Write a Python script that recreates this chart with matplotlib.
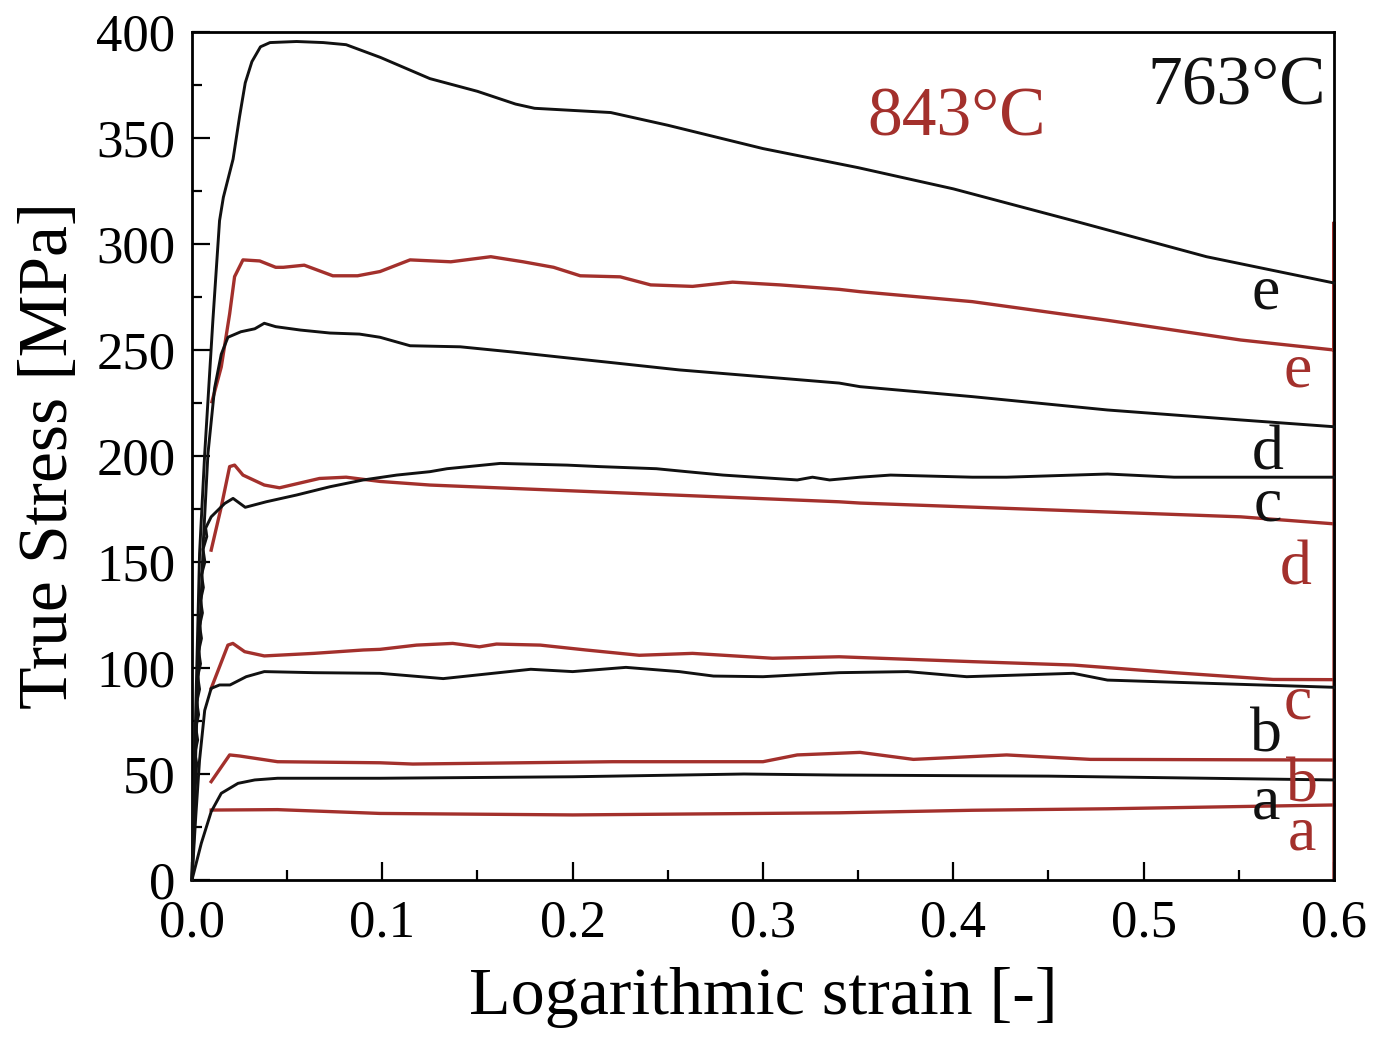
import matplotlib
matplotlib.use("Agg")
import matplotlib.pyplot as plt
from matplotlib.ticker import MultipleLocator, FormatStrFormatter

plt.rcParams["font.family"] = ["Liberation Serif", "DejaVu Serif"]

RED = "#a3302c"
BLACK = "#111111"

# 763 C curves (black)
x_763_e = [0, 0.002, 0.004, 0.0067, 0.011, 0.0145, 0.0165, 0.0216, 0.025, 0.028, 0.0315, 0.036,
           0.041, 0.055, 0.069, 0.081, 0.099, 0.125, 0.15, 0.17, 0.18, 0.2, 0.22, 0.25, 0.3,
           0.35, 0.4, 0.463, 0.533, 0.6]
y_763_e = [0, 80, 154, 201, 264, 311, 322, 340, 360, 376, 386, 393,
           395, 395.5, 395, 394, 388, 378, 372, 366, 364, 363, 362, 356, 345,
           336, 326, 311, 294, 281.6]

x_763_d = [0, 0.003, 0.006, 0.0084, 0.0119, 0.0154, 0.0189, 0.0257, 0.033, 0.038, 0.044, 0.057,
           0.0725, 0.088, 0.0988, 0.1146, 0.141, 0.169, 0.2, 0.221, 0.256, 0.309, 0.34, 0.351,
           0.41, 0.481, 0.551, 0.6]
y_763_d = [0, 90, 160, 201, 232, 248, 256, 258.6, 260, 262.6, 261, 259.4,
           258, 257.5, 256, 252, 251.5, 249, 246, 244, 240.6, 236.7, 234.4, 232.7,
           228, 221.7, 217, 213.8]

x_763_c = [0, 0.001, 0.0015, 0.0025, 0.0015, 0.003, 0.002, 0.0035, 0.0025, 0.004, 0.003, 0.0045,
           0.0035, 0.005, 0.004, 0.0055, 0.0045, 0.006, 0.005, 0.0068, 0.0058, 0.0078, 0.0072,
           0.0101, 0.0172, 0.0216, 0.028, 0.039, 0.055, 0.0725, 0.09, 0.1076, 0.125, 0.134,
           0.162, 0.197, 0.214, 0.244, 0.26, 0.279, 0.318, 0.326, 0.335, 0.351, 0.367, 0.41,
           0.428, 0.481, 0.516, 0.6]
y_763_c = [0, 20, 40, 55, 60, 66, 72, 78, 84, 90, 96, 102,
           108, 114, 120, 126, 132, 138, 144, 150, 156, 162, 166,
           171.3, 177.6, 180, 175.8, 178.4, 181.6, 185.5, 188.7, 191, 192.6, 194,
           196.5, 195.7, 195, 194, 192.6, 191, 188.7, 190, 188.7, 190, 191, 190,
           190, 191.5, 190, 190]

x_763_b = [0, 0.002, 0.004, 0.0067, 0.0101, 0.0145, 0.02, 0.0285, 0.038, 0.064, 0.0988, 0.132,
           0.178, 0.2, 0.228, 0.256, 0.274, 0.3, 0.34, 0.376, 0.407, 0.463, 0.481, 0.533, 0.6]
y_763_b = [0, 30, 56.6, 80, 90.4, 92, 92, 95.9, 98.3, 97.8, 97.5, 95,
           99.4, 98.3, 100.3, 98.3, 96.2, 95.9, 97.8, 98.3, 95.9, 97.5, 94.3, 92.8, 90.9]

x_763_a = [0, 0.0049, 0.0101, 0.0154, 0.0242, 0.033, 0.045, 0.0988, 0.2, 0.29, 0.34, 0.45, 0.6]
y_763_a = [0, 17.3, 32.2, 40.9, 45.6, 47.2, 48, 48, 48.7, 50, 49.5, 49, 47.2]

# 843 C curves (red); e ends with the unloading drop at the last strain
x_843_e = [0.0105, 0.0154, 0.0198, 0.0224, 0.0268, 0.0356, 0.044, 0.048, 0.059, 0.074, 0.087,
           0.0988, 0.1146, 0.136, 0.157, 0.174, 0.19, 0.204, 0.225, 0.241, 0.263, 0.284, 0.309,
           0.34, 0.351, 0.41, 0.481, 0.551, 0.6, 0.6, 0.6]
y_843_e = [225.6, 242, 267, 284.6, 292.5, 292, 289, 289, 290, 285, 285,
           287, 292.5, 291.6, 294, 291.6, 289, 285, 284.5, 280.7, 280, 282, 280.7,
           278.6, 277.5, 272.8, 264, 254.7, 250, 310, 0]

x_843_d = [0.0101, 0.0154, 0.0198, 0.0224, 0.0268, 0.038, 0.046, 0.067, 0.081, 0.0988, 0.125,
           0.34, 0.351, 0.551, 0.6]
y_843_d = [155.6, 176, 195, 195.7, 191, 186.3, 185, 189.4, 190, 188, 186.3,
           178.4, 177.8, 171.3, 168]

x_843_c = [0.0101, 0.0189, 0.0215, 0.0277, 0.038, 0.064, 0.09, 0.0988, 0.118, 0.137, 0.151,
           0.16, 0.183, 0.207, 0.235, 0.263, 0.305, 0.34, 0.41, 0.463, 0.516, 0.568, 0.6]
y_843_c = [90.4, 110.8, 111.6, 107.7, 105.7, 106.9, 108.5, 108.8, 110.8, 111.6, 110,
           111.3, 110.8, 108.5, 106, 106.9, 104.6, 105.3, 103, 101.4, 97.8, 94.6, 94.5]

x_843_b = [0.0101, 0.0198, 0.025, 0.045, 0.0988, 0.116, 0.221, 0.3, 0.318, 0.351, 0.379,
           0.428, 0.472, 0.6]
y_843_b = [46.4, 59, 58.5, 55.8, 55.3, 54.7, 55.8, 55.8, 59, 60.2, 56.9,
           59, 56.9, 56.6]

x_843_a = [0.0101, 0.045, 0.0988, 0.2, 0.34, 0.41, 0.481, 0.6]
y_843_a = [33, 33.2, 31.4, 30.7, 31.7, 32.9, 33.6, 35.4]

# curve letters: (text, x, baseline y)
labels_763 = [("e", 0.564, 269.8), ("d", 0.565, 193.4), ("c", 0.565, 169.8),
              ("b", 0.564, 60.4), ("a", 0.564, 29.2)]
labels_843 = [("e", 0.581, 233), ("d", 0.580, 139.2), ("c", 0.581, 76.4),
              ("b", 0.583, 36.8), ("a", 0.583, 14.2)]

fig = plt.figure(figsize=(13.74, 10.38), dpi=100)
ax = fig.add_axes([0.1397, 0.1522, 0.8312, 0.817])

for xs, ys in [(x_763_e, y_763_e), (x_763_d, y_763_d), (x_763_c, y_763_c),
               (x_763_b, y_763_b), (x_763_a, y_763_a)]:
    ax.plot(xs, ys, color=BLACK, lw=2.1, clip_on=False, zorder=3)

for xs, ys in [(x_843_e, y_843_e), (x_843_d, y_843_d), (x_843_c, y_843_c),
               (x_843_b, y_843_b), (x_843_a, y_843_a)]:
    ax.plot(xs, ys, color=RED, lw=2.4, clip_on=False, zorder=2)

for t, x, y in labels_763:
    ax.text(x, y, t, color=BLACK, fontsize=46, ha="center", va="baseline")
for t, x, y in labels_843:
    ax.text(x, y, t, color=RED, fontsize=46, ha="center", va="baseline")

ax.text(0.4015, 351.4, "843°C", color=RED, fontsize=50, ha="center", va="baseline")
ax.text(0.549, 365.6, "763°C", color=BLACK, fontsize=50, ha="center", va="baseline")

ax.set_xlim(0, 0.6)
ax.set_ylim(0, 400)
ax.xaxis.set_major_locator(MultipleLocator(0.1))
ax.xaxis.set_minor_locator(MultipleLocator(0.05))
ax.yaxis.set_major_locator(MultipleLocator(50))
ax.yaxis.set_minor_locator(MultipleLocator(25))
ax.xaxis.set_major_formatter(FormatStrFormatter("%.1f"))

ax.tick_params(which="both", direction="in", top=False, right=False, width=1.6, labelsize=38)
ax.tick_params(which="major", length=13)
ax.tick_params(axis="x", which="major", pad=14)
ax.tick_params(axis="y", which="major", pad=12)
ax.tick_params(which="minor", length=7)
for s in ax.spines.values():
    s.set_linewidth(2)

ax.set_xlabel("Logarithmic strain [-]", fontsize=49, labelpad=14)
ax.set_ylabel("True Stress [MPa]", fontsize=50, labelpad=10)

fig.savefig("out.png", dpi=100)
